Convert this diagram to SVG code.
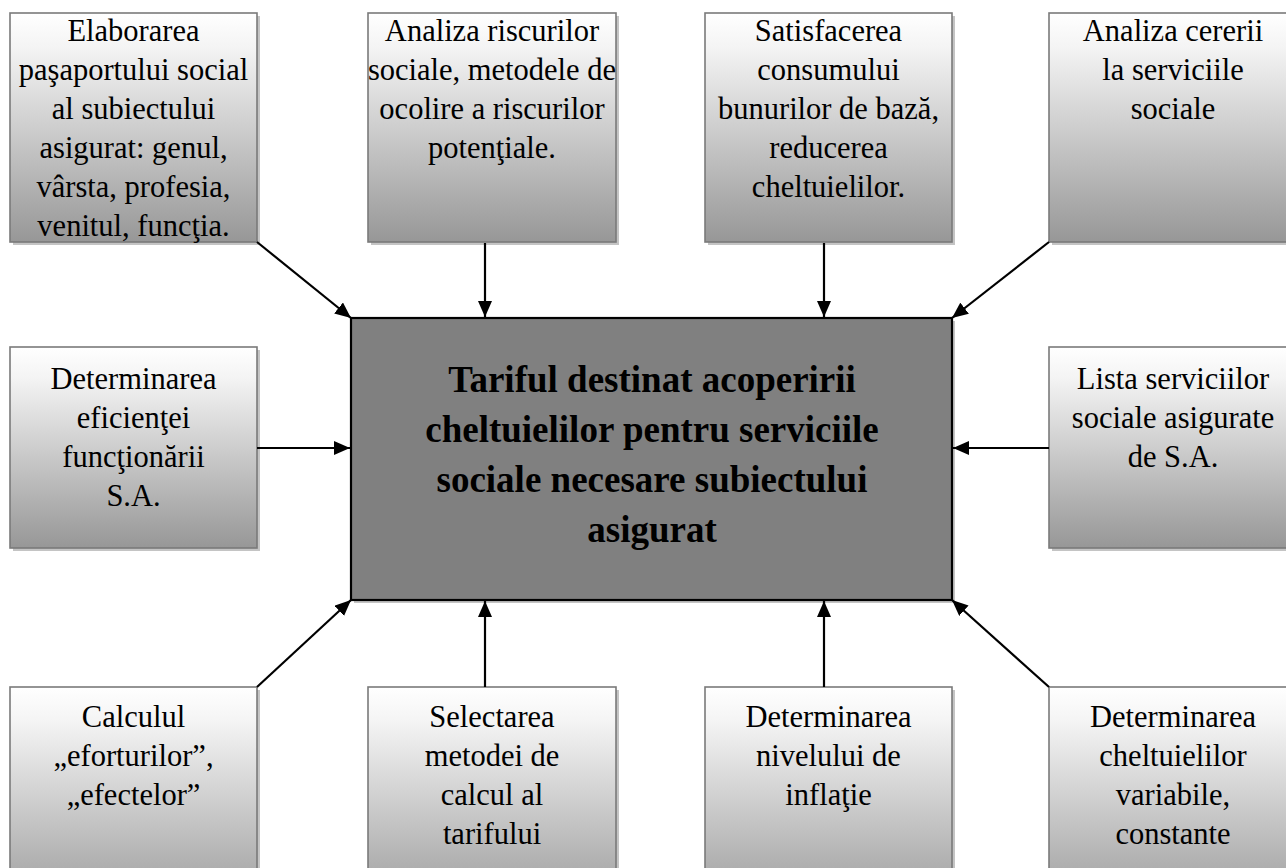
<svg xmlns="http://www.w3.org/2000/svg" width="1286" height="868" viewBox="0 0 1286 868">
<style>
.box{fill:url(#g);stroke:#7a7a7a;stroke-width:1.6}
.sh{fill:#c4c4c4}
.t{font-family:"Liberation Serif","Times New Roman",serif;font-size:30.5px;fill:#000;text-anchor:middle}
.tb{font-family:"Liberation Serif","Times New Roman",serif;font-size:37px;font-weight:bold;fill:#000;text-anchor:middle}
.c{stroke:#000;stroke-width:2.2;fill:none;marker-end:url(#ah)}
</style>
<defs>
<linearGradient id="g" x1="0" y1="0" x2="0" y2="1">
<stop offset="0" stop-color="#ffffff"/>
<stop offset="0.15" stop-color="#f4f4f4"/>
<stop offset="1" stop-color="#979797"/>
</linearGradient>
<marker id="ah" markerWidth="16" markerHeight="14" refX="16" refY="7" orient="auto" markerUnits="userSpaceOnUse">
<path d="M0,0 L16,7 L0,14 Z" fill="#000"/>
</marker>
</defs>
<rect width="1286" height="868" fill="#fff"/>

<g id="center">
<rect class="sh" x="354" y="321" width="601" height="282"/>
<rect x="351" y="318" width="601" height="282" fill="#808080" stroke="#000" stroke-width="2.2"/>
<text class="tb" x="652" y="392">Tariful destinat acoperirii</text>
<text class="tb" x="652" y="442">cheltuielilor pentru serviciile</text>
<text class="tb" x="652" y="492">sociale necesare subiectului</text>
<text class="tb" x="652" y="542">asigurat</text>
</g>

<g id="n1">
<rect class="sh" x="13" y="16" width="247" height="229"/>
<rect class="box" x="10" y="13" width="247" height="229"/>
<text class="t" x="133.5" y="41">Elaborarea</text>
<text class="t" x="133.5" y="80">paşaportului social</text>
<text class="t" x="133.5" y="119">al subiectului</text>
<text class="t" x="133.5" y="158">asigurat: genul,</text>
<text class="t" x="133.5" y="197">vârsta, profesia,</text>
<text class="t" x="133.5" y="236">venitul, funcţia.</text>
</g>

<g id="n2">
<rect class="sh" x="371" y="16" width="248" height="229"/>
<rect class="box" x="368" y="13" width="248" height="229"/>
<text class="t" x="492" y="41">Analiza riscurilor</text>
<text class="t" x="492" y="80">sociale, metodele de</text>
<text class="t" x="492" y="119">ocolire a riscurilor</text>
<text class="t" x="492" y="158">potenţiale.</text>
</g>

<g id="n3">
<rect class="sh" x="708" y="16" width="247" height="229"/>
<rect class="box" x="705" y="13" width="247" height="229"/>
<text class="t" x="828.5" y="41">Satisfacerea</text>
<text class="t" x="828.5" y="80">consumului</text>
<text class="t" x="828.5" y="119">bunurilor de bază,</text>
<text class="t" x="828.5" y="158">reducerea</text>
<text class="t" x="828.5" y="197">cheltuielilor.</text>
</g>

<g id="n4">
<rect class="sh" x="1052" y="16" width="248" height="229"/>
<rect class="box" x="1049" y="13" width="248" height="229"/>
<text class="t" x="1173" y="41">Analiza cererii</text>
<text class="t" x="1173" y="80">la serviciile</text>
<text class="t" x="1173" y="119">sociale</text>
</g>

<g id="n5">
<rect class="sh" x="13" y="350" width="247" height="201"/>
<rect class="box" x="10" y="347" width="247" height="201"/>
<text class="t" x="133.5" y="389">Determinarea</text>
<text class="t" x="133.5" y="428">eficienţei</text>
<text class="t" x="133.5" y="467">funcţionării</text>
<text class="t" x="133.5" y="506">S.A.</text>
</g>

<g id="n6">
<rect class="sh" x="1052" y="350" width="248" height="201"/>
<rect class="box" x="1049" y="347" width="248" height="201"/>
<text class="t" x="1173" y="389">Lista serviciilor</text>
<text class="t" x="1173" y="428">sociale asigurate</text>
<text class="t" x="1173" y="467">de S.A.</text>
</g>

<g id="n7">
<rect class="sh" x="13" y="690" width="247" height="230"/>
<rect class="box" x="10" y="687" width="247" height="230"/>
<text class="t" x="133.5" y="727">Calculul</text>
<text class="t" x="133.5" y="766">„eforturilor”,</text>
<text class="t" x="133.5" y="805">„efectelor”</text>
</g>

<g id="n8">
<rect class="sh" x="371" y="690" width="248" height="230"/>
<rect class="box" x="368" y="687" width="248" height="230"/>
<text class="t" x="492" y="727">Selectarea</text>
<text class="t" x="492" y="766">metodei de</text>
<text class="t" x="492" y="805">calcul al</text>
<text class="t" x="492" y="844">tarifului</text>
</g>

<g id="n9">
<rect class="sh" x="708" y="690" width="247" height="230"/>
<rect class="box" x="705" y="687" width="247" height="230"/>
<text class="t" x="828.5" y="727">Determinarea</text>
<text class="t" x="828.5" y="766">nivelului de</text>
<text class="t" x="828.5" y="805">inflaţie</text>
</g>

<g id="n10">
<rect class="sh" x="1052" y="690" width="248" height="230"/>
<rect class="box" x="1049" y="687" width="248" height="230"/>
<text class="t" x="1173" y="727">Determinarea</text>
<text class="t" x="1173" y="766">cheltuielilor</text>
<text class="t" x="1173" y="805">variabile,</text>
<text class="t" x="1173" y="844">constante</text>
</g>

<g id="connectors">
<line class="c" x1="257" y1="242" x2="351" y2="318"/>
<line class="c" x1="485" y1="243" x2="485" y2="317"/>
<line class="c" x1="824" y1="243" x2="824" y2="317"/>
<line class="c" x1="1049" y1="242" x2="952" y2="318"/>
<line class="c" x1="257" y1="448" x2="350" y2="448"/>
<line class="c" x1="1049" y1="448" x2="953" y2="448"/>
<line class="c" x1="257" y1="687" x2="351" y2="600"/>
<line class="c" x1="485" y1="687" x2="485" y2="601"/>
<line class="c" x1="824" y1="687" x2="824" y2="601"/>
<line class="c" x1="1049" y1="687" x2="952" y2="600"/>
</g>
</svg>
